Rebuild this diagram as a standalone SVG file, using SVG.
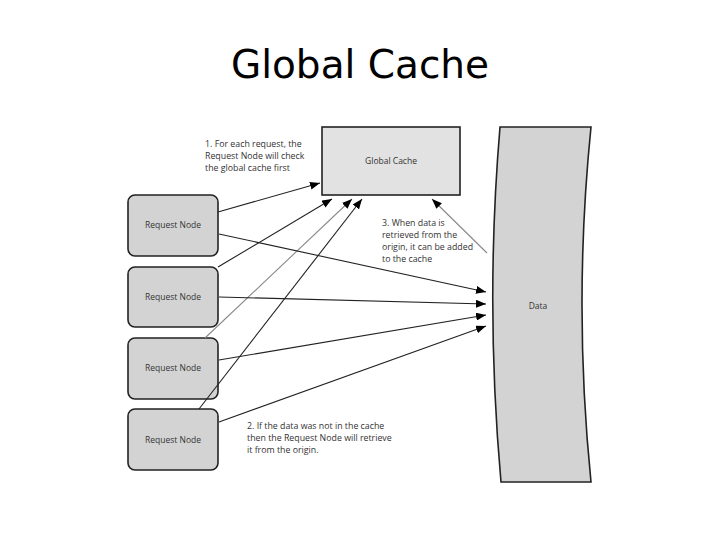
<svg xmlns="http://www.w3.org/2000/svg" width="720" height="540" viewBox="0 0 720 540">
<defs>
<style>
.title{font-family:"DejaVu Sans",sans-serif;font-size:39px;fill:#000}
.lbl{font-family:"Open Sans","Noto Sans",sans-serif;font-size:8.5px;fill:#333}
.note{font-family:"Open Sans","Noto Sans",sans-serif;font-size:8.8px;fill:#333}
.rn{fill:#d3d3d3;stroke:#222;stroke-width:1.6}
.ln{fill:none;stroke:#222;stroke-width:1.1}
.lg{fill:none;stroke:#888;stroke-width:1.1}
</style>
<marker id="ah" markerWidth="10" markerHeight="8" refX="10" refY="4" orient="auto" markerUnits="userSpaceOnUse">
<path d="M0,0 L10,4 L0,8 Z" fill="#000"/>
</marker>
</defs>
<rect width="720" height="540" fill="#fff"/>
<text class="title" x="360" y="78" text-anchor="middle">Global Cache</text>

<g id="global-cache">
<rect x="322" y="127" width="138" height="68" fill="#e2e2e2" stroke="#222" stroke-width="1.6"/>
<text class="lbl" x="391" y="164" text-anchor="middle">Global Cache</text>
</g>

<g id="data">
<path d="M500,127 L591,127 Q573,304 591,482 L501,482 Q485,304 500,127 Z" fill="#d3d3d3" stroke="#222" stroke-width="1.6"/>
<text class="lbl" x="538" y="309" text-anchor="middle">Data</text>
</g>

<g id="request-node-1">
<rect class="rn" x="128" y="195" width="90" height="61" rx="7"/>
<text class="lbl" x="173" y="228" text-anchor="middle">Request Node</text>
</g>
<g id="request-node-2">
<rect class="rn" x="128" y="267" width="90" height="60" rx="7"/>
<text class="lbl" x="173" y="300" text-anchor="middle">Request Node</text>
</g>
<g id="request-node-3">
<rect class="rn" x="128" y="338" width="90" height="61" rx="7"/>
<text class="lbl" x="173" y="371" text-anchor="middle">Request Node</text>
</g>
<g id="request-node-4">
<rect class="rn" x="128" y="409" width="90" height="61" rx="7"/>
<text class="lbl" x="173" y="443" text-anchor="middle">Request Node</text>
</g>

<g id="connectors">
<line class="ln" x1="218" y1="212" x2="320" y2="183" marker-end="url(#ah)"/>
<line class="ln" x1="218" y1="267" x2="332" y2="199" marker-end="url(#ah)"/>
<line class="lg" x1="205" y1="338" x2="352" y2="199" marker-end="url(#ah)"/>
<line class="ln" x1="199" y1="409" x2="362" y2="199" marker-end="url(#ah)"/>
<line class="ln" x1="219" y1="234" x2="486" y2="292" marker-end="url(#ah)"/>
<line class="ln" x1="219" y1="297" x2="486" y2="304" marker-end="url(#ah)"/>
<line class="ln" x1="219" y1="360" x2="486" y2="315" marker-end="url(#ah)"/>
<line class="ln" x1="219" y1="422" x2="486" y2="326" marker-end="url(#ah)"/>
<line class="lg" x1="487" y1="253" x2="432" y2="199" marker-end="url(#ah)"/>
</g>

<g id="notes">
<text class="note" x="205" y="147">1. For each request, the</text>
<text class="note" x="205" y="159">Request Node will check</text>
<text class="note" x="205" y="171">the global cache first</text>
<text class="note" x="382" y="226">3. When data is</text>
<text class="note" x="382" y="238">retrieved from the</text>
<text class="note" x="382" y="250">origin, it can be added</text>
<text class="note" x="382" y="262">to the cache</text>
<text class="note" x="247" y="429">2. If the data was not in the cache</text>
<text class="note" x="247" y="441">then the Request Node will retrieve</text>
<text class="note" x="247" y="453">it from the origin.</text>
</g>
</svg>
